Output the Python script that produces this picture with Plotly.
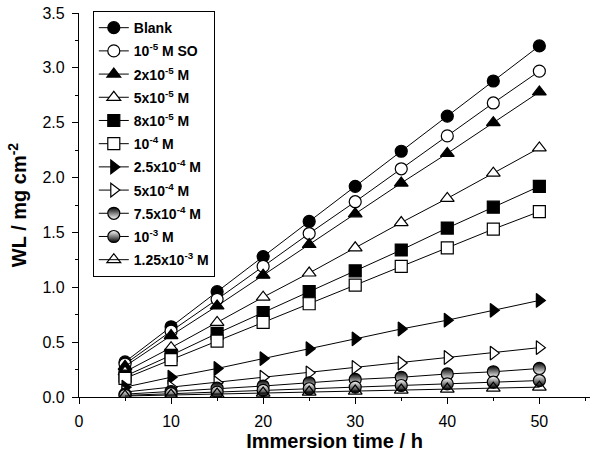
import plotly.graph_objects as go

time_h = [5, 10, 15, 20, 25, 30, 35, 40, 45, 50]

labels = ["Blank", "10<sup>-5</sup> M SO", "2x10<sup>-5</sup> M", "5x10<sup>-5</sup> M",
          "8x10<sup>-5</sup> M", "10<sup>-4</sup> M", "2.5x10<sup>-4</sup> M",
          "5x10<sup>-4</sup> M", "7.5x10<sup>-4</sup> M", "10<sup>-3</sup> M",
          "1.25x10<sup>-3</sup> M"]

wl_blank = [0.32, 0.64, 0.96, 1.28, 1.60, 1.92, 2.24, 2.56, 2.88, 3.20]
wl_1e5 = [0.30, 0.60, 0.89, 1.19, 1.49, 1.78, 2.08, 2.38, 2.68, 2.97]
wl_2e5 = [0.28, 0.56, 0.83, 1.11, 1.39, 1.67, 1.95, 2.22, 2.50, 2.78]
wl_5e5 = [0.23, 0.45, 0.68, 0.91, 1.13, 1.36, 1.59, 1.81, 2.04, 2.27]
wl_8e5 = [0.19, 0.38, 0.58, 0.77, 0.96, 1.15, 1.34, 1.54, 1.73, 1.92]
wl_1e4 = [0.17, 0.34, 0.51, 0.68, 0.85, 1.02, 1.19, 1.36, 1.53, 1.69]
wl_25e4 = [0.09, 0.18, 0.26, 0.35, 0.44, 0.53, 0.62, 0.70, 0.79, 0.88]
wl_5e4 = [0.045, 0.09, 0.13, 0.18, 0.22, 0.27, 0.31, 0.36, 0.40, 0.45]
wl_75e4 = [0.026, 0.05, 0.08, 0.10, 0.13, 0.16, 0.18, 0.21, 0.23, 0.26]
wl_1e3 = [0.015, 0.03, 0.045, 0.06, 0.075, 0.09, 0.105, 0.12, 0.135, 0.15]
wl_125e3 = [0.009, 0.018, 0.027, 0.036, 0.045, 0.054, 0.063, 0.072, 0.081, 0.09]

series = [wl_blank, wl_1e5, wl_2e5, wl_5e5, wl_8e5, wl_1e4, wl_25e4, wl_5e4,
          wl_75e4, wl_1e3, wl_125e3]

styles = [
    dict(symbol="circle", color="black"),
    dict(symbol="circle", color="white"),
    dict(symbol="triangle-up", color="black"),
    dict(symbol="triangle-up", color="white"),
    dict(symbol="square", color="black"),
    dict(symbol="square", color="white"),
    dict(symbol="triangle-right", color="black"),
    dict(symbol="triangle-right", color="white"),
    dict(symbol="circle", color="black", gradient=dict(type="vertical", color="white")),
    dict(symbol="circle", color="white", gradient=dict(type="vertical", color="black")),
    dict(symbol="triangle-up-open", color="black"),
]

fig = go.Figure()
for i, (lab, ys, st) in enumerate(zip(labels, series, styles)):
    m = dict(symbol=st["symbol"], color=st["color"], size=12,
             line=dict(color="black", width=1.2))
    if "gradient" in st:
        m["gradient"] = st["gradient"]
    fig.add_trace(go.Scatter(x=time_h, y=ys, name=lab, mode="lines+markers",
                             legendgroup=f"g{i}",
                             line=dict(color="black", width=1), marker=m))

fig.update_layout(
    width=594, height=459,
    margin=dict(l=79, r=4, t=13, b=62),
    paper_bgcolor="white", plot_bgcolor="white",
    font=dict(family="Liberation Sans, Arial", color="black", size=16),
    legend=dict(x=0.027, y=1.005, xanchor="left", yanchor="top",
                bordercolor="black", borderwidth=1, bgcolor="white",
                font=dict(size=14, family="Liberation Sans, Arial", weight="bold"),
                traceorder="grouped", tracegroupgap=2, maxheight=1.0,
                entrywidth=100, entrywidthmode="pixels"),
    xaxis=dict(range=[0, 55.5], dtick=10, tick0=0, showline=True, linecolor="black",
               linewidth=1.2, ticks="outside", ticklen=6, tickcolor="black",
               showgrid=False, zeroline=False, ticklabelstandoff=4,
               minor=dict(dtick=5, ticks="outside", ticklen=3, tickcolor="black"),
               title=dict(text="<b>Immersion time / h</b>", font=dict(size=20), standoff=4)),
    yaxis=dict(range=[0, 3.5], dtick=0.5, tickformat=".1f", showline=True,
               linecolor="black", linewidth=1.2, ticks="outside", ticklen=6,
               tickcolor="black", showgrid=False, zeroline=False, ticklabelstandoff=4,
               minor=dict(dtick=0.25, ticks="outside", ticklen=3, tickcolor="black"),
               title=dict(text="<b>WL / mg cm<sup>-2</sup></b>", font=dict(size=20), standoff=10)),
)

fig.write_html("out.html")
